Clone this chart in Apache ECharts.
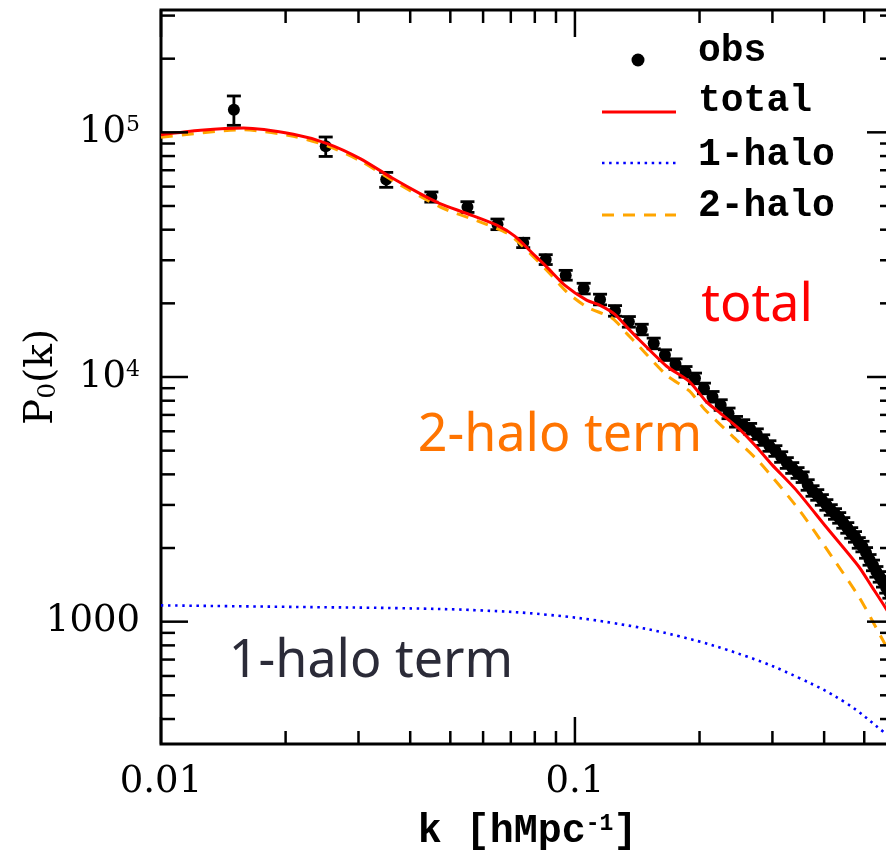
<!DOCTYPE html>
<html>
<head>
<meta charset="utf-8">
<script src="https://cdn.jsdelivr.net/npm/echarts@6/dist/echarts.min.js"></script>
<style>
  html, body { margin: 0; padding: 0; background: #fff; overflow: hidden; }
  #chart { width: 900px; height: 862px; }
</style>
</head>
<body>
<div id="chart"></div>
<script>
// Axis ranges
const xMin = 0.01, xMax = 0.59;
const yMin = 316.2278, yMax = 316227.8;

// Observed monopole P0(k): bin centres, values and 1-sigma errors
const obsK = [0.015, 0.025, 0.035, 0.045, 0.055, 0.065, 0.075, 0.085, 0.095, 0.105,
  0.115, 0.125, 0.135, 0.145, 0.155, 0.165, 0.175, 0.185, 0.195, 0.205,
  0.215, 0.225, 0.235, 0.245, 0.255, 0.265, 0.275, 0.285, 0.295, 0.305,
  0.315, 0.325, 0.335, 0.345, 0.355, 0.365, 0.375, 0.385, 0.395, 0.405,
  0.415, 0.425, 0.435, 0.445, 0.455, 0.465, 0.475, 0.485, 0.495, 0.505,
  0.515, 0.525, 0.535, 0.545, 0.555, 0.565, 0.575, 0.585];
const obsP = [123800, 87700, 64100, 54450, 49560, 42120, 35340, 30220, 26080, 23010,
  20760, 18650, 16820, 15650, 13730, 12300, 11300, 10510, 9880, 8990,
  8310, 7690, 7110, 6570, 6370, 6150, 5850, 5530, 5230, 4990,
  4715, 4457, 4253, 4058, 3900, 3624, 3425, 3299, 3148, 3003,
  2865, 2759, 2658, 2536, 2419, 2308, 2223, 2101, 2030, 1912,
  1791, 1700, 1600, 1526, 1457, 1377, 1313, 1253];
const obsErr = [17000, 8000, 4500, 2600, 2500, 2100, 1550, 1400, 1200, 1150,
  1040, 930, 840, 780, 690, 615, 565, 525, 495, 450,
  415, 385, 355, 330, 320, 310, 290, 275, 260, 250,
  235, 225, 215, 205, 195, 180, 170, 165, 158, 150,
  143, 138, 133, 127, 121, 115, 111, 105, 101, 96,
  90, 85, 80, 76, 73, 69, 66, 63];

// Halo model: total
const totalK = [0.0100, 0.01246, 0.01582, 0.02088, 0.02521, 0.03028, 0.03637, 0.04225, 0.04720, 0.05483,
  0.06476, 0.07156, 0.07909, 0.08546, 0.09445, 0.1067, 0.1147, 0.1247, 0.1333, 0.1432,
  0.1663, 0.1890, 0.2077, 0.2195, 0.2494, 0.2787, 0.2995, 0.3421, 0.4042, 0.4853,
  0.5215, 0.5606, 0.5893];
const totalP = [97680, 101900, 104100, 98140, 89930, 78100, 64720, 56200, 51170, 46590,
  41730, 37630, 31980, 28200, 23750, 20620, 19670, 18070, 16040, 14160,
  11090, 9569, 7929, 7335, 6135, 5036, 4374, 3457, 2442, 1677,
  1390, 1151, 1000];

// Halo model: 2-halo term
const twoHaloK = [0.0100, 0.01582, 0.02088, 0.02521, 0.03028, 0.03637, 0.04720, 0.05894, 0.06845, 0.07358,
  0.08546, 0.09550, 0.1067, 0.1233, 0.1333, 0.1432, 0.1663, 0.1890, 0.2054, 0.2399,
  0.2787, 0.3479, 0.4178, 0.4853, 0.5215, 0.5606, 0.5893];
const twoHaloP = [95410, 102380, 96310, 88080, 76500, 63390, 49560, 43040, 38810, 35140,
  27340, 22300, 19360, 17360, 15080, 13290, 10190, 8768, 7403, 5743,
  4498, 2865, 1842, 1265, 1019, 813, 713];

// Halo model: 1-halo term
const oneHaloK = [0.0100, 0.02171, 0.03785, 0.05894, 0.08546, 0.1233, 0.1788, 0.2593, 0.3479, 0.4511, 0.5606, 0.5893];
const oneHaloP = [1166, 1148, 1135, 1112, 1068, 988, 871, 722, 589, 466, 351, 327];

// Tick positions and labels
const xMajorTicks = [0.01, 0.1];
const xMinorTicks = [0.02, 0.03, 0.04, 0.05, 0.06, 0.07, 0.08, 0.09, 0.2, 0.3, 0.4, 0.5];
const xTickValues = [0.01, 0.1];
const xTickTexts = ['0.01', '0.1'];
const yMajorTicks = [1000, 10000, 100000];
const yMinorTicks = [400, 500, 600, 700, 800, 900, 2000, 3000, 4000, 5000, 6000, 7000, 8000, 9000,
  20000, 30000, 40000, 50000, 60000, 70000, 80000, 90000, 200000, 300000];
const yTickValues = [1000, 10000, 100000];
const yTickTexts = ['1000', '10^4', '10^5'];

const legendNames = ['obs', 'total', '1-halo', '2-halo'];

const SERIF = '"DejaVu Serif", serif';
const MONO = '"Liberation Mono", "DejaVu Sans Mono", monospace';
const HAND = '"Noto Sans", "Open Sans", sans-serif';

function pair(ks, ps) { return ks.map((k, i) => [k, ps[i]]); }
function near(a, b) { return Math.abs(Math.log10(a) - Math.log10(b)) < 1e-6; }

function tickSeries(values, axis, len) {
  return {
    type: 'custom', silent: true, z: 20, clip: false,
    data: values.map(v => axis === 'x' ? [v, yMin] : [xMin, v]),
    renderItem: function (params, api) {
      const cs = params.coordSys;
      const p = api.coord([api.value(0), api.value(1)]);
      const st = { stroke: '#000', lineWidth: 2.5 };
      if (axis === 'x') {
        const b = cs.y + cs.height, t = cs.y;
        return { type: 'group', children: [
          { type: 'line', shape: { x1: p[0], y1: b, x2: p[0], y2: b - len }, style: st },
          { type: 'line', shape: { x1: p[0], y1: t, x2: p[0], y2: t + len }, style: st }
        ] };
      }
      const l = cs.x, r = cs.x + cs.width;
      return { type: 'group', children: [
        { type: 'line', shape: { x1: l, y1: p[1], x2: l + len, y2: p[1] }, style: st },
        { type: 'line', shape: { x1: r, y1: p[1], x2: r - len, y2: p[1] }, style: st }
      ] };
    }
  };
}

const chart = echarts.init(document.getElementById('chart'), null, { renderer: 'canvas' });

const option = {
  animation: false,
  backgroundColor: '#fff',
  grid: {
    left: 161, top: 10, width: 733, height: 734,
    containLabel: false, outerBoundsMode: 'none',
    show: true, borderColor: '#000', borderWidth: 3, backgroundColor: 'transparent'
  },
  xAxis: {
    type: 'log', logBase: 10, min: xMin, max: xMax,
    axisLine: { show: false }, axisTick: { show: false }, splitLine: { show: false },
    axisLabel: {
      showMinLabel: true, showMaxLabel: false, margin: 20,
      fontFamily: SERIF, fontSize: 37, color: '#000',
      formatter: function (v) {
        for (let i = 0; i < xTickValues.length; i++) if (near(v, xTickValues[i])) return xTickTexts[i];
        return '';
      }
    },
    name: '{a|k [hMpc}{s|-1}{a|]}',
    nameLocation: 'middle', nameGap: 68, nameMoveOverlap: false,
    nameTextStyle: {
      rich: {
        a: { fontFamily: MONO, fontSize: 40, color: '#000', fontWeight: 'bold' },
        s: { fontFamily: MONO, fontSize: 23, color: '#000', fontWeight: 'bold', padding: [0, 0, 16, 0] }
      }
    }
  },
  yAxis: {
    type: 'log', logBase: 10, min: yMin, max: yMax,
    axisLine: { show: false }, axisTick: { show: false }, splitLine: { show: false },
    axisLabel: {
      showMinLabel: false, showMaxLabel: false, margin: 21,
      formatter: function (v) {
        for (let i = 0; i < yTickValues.length; i++) {
          if (near(v, yTickValues[i])) {
            const t = yTickTexts[i];
            if (t.indexOf('^') > 0) {
              const parts = t.split('^');
              return '{b|' + parts[0] + '}{s|' + parts[1] + '}';
            }
            return '{b|' + t + '}';
          }
        }
        return '';
      },
      rich: {
        b: { fontFamily: SERIF, fontSize: 37, color: '#000' },
        s: { fontFamily: SERIF, fontSize: 22, color: '#000', padding: [0, 0, 14, 0] }
      }
    },
    name: '{a|P}{s|0}{a|(k)}',
    nameLocation: 'middle', nameGap: 100, nameRotate: 90, nameMoveOverlap: false,
    nameTextStyle: {
      rich: {
        a: { fontFamily: SERIF, fontSize: 39, color: '#000' },
        s: { fontFamily: SERIF, fontSize: 25, color: '#000', padding: [14, 0, 0, 0] }
      }
    }
  },
  series: [
    tickSeries(xMajorTicks, 'x', 27),
    tickSeries(xMinorTicks, 'x', 13),
    tickSeries(yMajorTicks, 'y', 27),
    tickSeries(yMinorTicks, 'y', 14),
    {
      name: 'obs-err', type: 'custom', z: 3, silent: true,
      data: obsK.map((k, i) => [k, obsP[i] - obsErr[i], obsP[i] + obsErr[i]]),
      encode: { x: 0, y: [1, 2] },
      renderItem: function (params, api) {
        const k = api.value(0);
        const lo = api.coord([k, api.value(1)]);
        const hi = api.coord([k, api.value(2)]);
        const w = 7;
        const st = { stroke: '#000', lineWidth: 2.8 };
        return { type: 'group', children: [
          { type: 'line', shape: { x1: lo[0], y1: lo[1], x2: hi[0], y2: hi[1] }, style: st },
          { type: 'line', shape: { x1: lo[0] - w, y1: lo[1], x2: lo[0] + w, y2: lo[1] }, style: st },
          { type: 'line', shape: { x1: hi[0] - w, y1: hi[1], x2: hi[0] + w, y2: hi[1] }, style: st }
        ] };
      }
    },
    {
      name: legendNames[0], type: 'scatter', z: 4,
      symbol: 'circle', symbolSize: 12,
      itemStyle: { color: '#000', opacity: 1 },
      data: pair(obsK, obsP)
    },
    {
      name: legendNames[2], type: 'line', z: 5, showSymbol: false, symbol: 'none', smooth: 0.4,
      lineStyle: { color: '#0000ff', width: 2.6, type: [2.5, 4.6] },
      data: pair(oneHaloK, oneHaloP)
    },
    {
      name: legendNames[3], type: 'line', z: 6, showSymbol: false, symbol: 'none', smooth: 0.25,
      lineStyle: { color: '#ffa500', width: 3, type: [12, 9] },
      data: pair(twoHaloK, twoHaloP)
    },
    {
      name: legendNames[1], type: 'line', z: 7, showSymbol: false, symbol: 'none', smooth: 0.25,
      lineStyle: { color: '#ff0000', width: 3 },
      data: pair(totalK, totalP)
    }
  ],
  graphic: [
    // key
    { type: 'circle', shape: { cx: 638, cy: 60, r: 6.5 }, style: { fill: '#000' }, z: 30 },
    { type: 'line', shape: { x1: 602, y1: 112, x2: 676, y2: 112 }, style: { stroke: '#ff0000', lineWidth: 3 }, z: 30 },
    { type: 'line', shape: { x1: 602, y1: 163, x2: 676, y2: 163 }, style: { stroke: '#0000ff', lineWidth: 2.6, lineDash: [2.5, 4.6] }, z: 30 },
    { type: 'line', shape: { x1: 602, y1: 215, x2: 676, y2: 215 }, style: { stroke: '#ffa500', lineWidth: 3, lineDash: [12, 9] }, z: 30 },
    { type: 'text', x: 698, y: 51, z: 30, style: { text: legendNames[0], font: 'bold 38px ' + MONO, fill: '#000', textVerticalAlign: 'middle' } },
    { type: 'text', x: 698, y: 101, z: 30, style: { text: legendNames[1], font: 'bold 38px ' + MONO, fill: '#000', textVerticalAlign: 'middle' } },
    { type: 'text', x: 698, y: 155, z: 30, style: { text: legendNames[2], font: 'bold 38px ' + MONO, fill: '#000', textVerticalAlign: 'middle' } },
    { type: 'text', x: 698, y: 206, z: 30, style: { text: legendNames[3], font: 'bold 38px ' + MONO, fill: '#000', textVerticalAlign: 'middle' } },
    // term annotations
    { type: 'text', x: 757, y: 306, z: 30, style: { text: 'total', font: '52px ' + HAND, fill: '#ff0000', textAlign: 'center', textVerticalAlign: 'middle' } },
    { type: 'text', x: 560, y: 436, z: 30, style: { text: '2-halo term', font: '52px ' + HAND, fill: '#ff7400', textAlign: 'center', textVerticalAlign: 'middle' } },
    { type: 'text', x: 371, y: 662, z: 30, style: { text: '1-halo term', font: '52px ' + HAND, fill: '#2b2b38', textAlign: 'center', textVerticalAlign: 'middle' } }
  ]
};

chart.setOption(option);
</script>
</body>
</html>
